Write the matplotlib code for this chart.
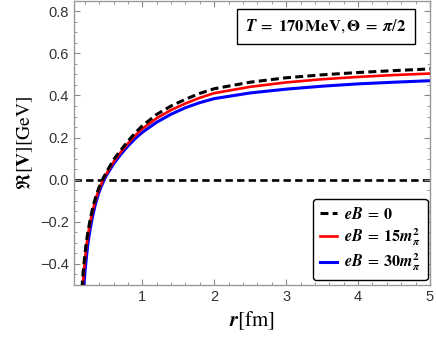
import matplotlib
matplotlib.use("Agg")
import matplotlib.pyplot as plt
from matplotlib.ticker import MultipleLocator

# ---- data ----
r_b0 = [0.15, 0.16, 0.17, 0.18, 0.20, 0.22, 0.25, 0.28, 0.32, 0.36, 0.40, 0.45,
        0.50, 0.60, 0.70, 0.80, 0.90, 1.00, 1.20, 1.40, 1.60, 1.80, 2.00,
        2.50, 3.00, 3.50, 4.00, 4.50, 5.00]
V_b0 = [-0.575, -0.52, -0.472, -0.43, -0.36, -0.30, -0.235, -0.18, -0.12, -0.072, -0.035, 0.003,
        0.035, 0.095, 0.140, 0.183, 0.222, 0.256, 0.31, 0.35, 0.382, 0.41, 0.432,
        0.463, 0.484, 0.498, 0.509, 0.518, 0.526]

r_b15 = [0.158, 0.168, 0.178, 0.188, 0.208, 0.228, 0.258, 0.288, 0.33, 0.37, 0.41, 0.46,
         0.50, 0.60, 0.70, 0.80, 0.90, 1.00, 1.20, 1.40, 1.60, 1.80, 2.00,
         2.50, 3.00, 3.50, 4.00, 4.50, 5.00]
V_b15 = [-0.575, -0.52, -0.472, -0.43, -0.36, -0.30, -0.235, -0.18, -0.12, -0.072, -0.035, 0.003,
         0.028, 0.085, 0.131, 0.172, 0.21, 0.242, 0.292, 0.331, 0.362, 0.389, 0.411,
         0.441, 0.462, 0.477, 0.488, 0.497, 0.504]

r_b30 = [0.175, 0.185, 0.195, 0.205, 0.225, 0.245, 0.275, 0.305, 0.345, 0.385, 0.425, 0.475,
         0.50, 0.60, 0.70, 0.80, 0.90, 1.00, 1.20, 1.40, 1.60, 1.80, 2.00,
         2.50, 3.00, 3.50, 4.00, 4.50, 5.00]
V_b30 = [-0.575, -0.52, -0.472, -0.43, -0.36, -0.30, -0.235, -0.18, -0.12, -0.072, -0.035, 0.003,
         0.02, 0.075, 0.12, 0.16, 0.195, 0.225, 0.273, 0.311, 0.342, 0.366, 0.385,
         0.412, 0.43, 0.444, 0.455, 0.463, 0.47]

labels = [r'$\mathbfit{eB}\;=\;\mathbf{0}$',
          r'$\mathbfit{eB}\;=\;\mathbf{15}\mathbfit{m}_{\mathbfit{\pi}}^{\mathbf{2}}$',
          r'$\mathbfit{eB}\;=\;\mathbf{30}\mathbfit{m}_{\mathbfit{\pi}}^{\mathbf{2}}$']
xticks = [1, 2, 3, 4, 5]
yticks = [-0.4, -0.2, 0.0, 0.2, 0.4, 0.6, 0.8]
yticklabels = ['\u22120.4', '\u22120.2', '0.0', '0.2', '0.4', '0.6', '0.8']

plt.rcParams['mathtext.fontset'] = 'stix'

fig = plt.figure(figsize=(4.36, 3.46), dpi=100)
ax = fig.add_axes([74/436, 1-285/346, (430-74)/436, 285/346 - 0.002])

ax.axhline(0.0, color='black', lw=1.9, ls=(0, (2.8, 1.6)), zorder=1)
ax.plot(r_b30, V_b30, color='#0000ff', lw=2.2, zorder=2, label=labels[2])
ax.plot(r_b15, V_b15, color='#ff0000', lw=1.9, zorder=3, label=labels[1])
ax.plot(r_b0, V_b0, color='black', lw=2.2, ls=(0, (2.6, 1.4)), zorder=4, label=labels[0])

ax.set_xlim(0.05, 5.0)
ax.set_ylim(-0.5, 0.85)
ax.set_xticks(xticks)
ax.set_yticks(yticks)
ax.set_yticklabels(yticklabels)
ax.xaxis.set_minor_locator(MultipleLocator(0.2))
ax.yaxis.set_minor_locator(MultipleLocator(0.05))
ax.tick_params(which='both', direction='in', top=True, right=True, color='#888888',
               labelsize=10.5, labelcolor='#333333')
ax.tick_params(which='major', length=4, width=0.8)
ax.tick_params(which='minor', length=2, width=0.6)
for lab in ax.get_xticklabels() + ax.get_yticklabels():
    lab.set_family('Liberation Sans')
for sp in ax.spines.values():
    sp.set_color('#999999')
    sp.set_linewidth(1.0)

ax.set_xlabel(r'$\mathbfit{r}[\mathrm{fm}]$', fontsize=15, labelpad=4)
ax.set_ylabel(r'$\Re[\mathbf{V}][\mathrm{GeV}]$', fontsize=14, labelpad=4)

ax.text(0.708, 0.91,
        r'$\mathbfit{T}\;=\;\mathbf{170}\,\mathbf{MeV},\mathbf{\Theta}\;=\;\mathbfit{\pi}/\mathbf{2}$',
        transform=ax.transAxes, ha='center', va='center', fontsize=12,
        bbox=dict(boxstyle='square,pad=0.5', fc='white', ec='black', lw=1.0))

h, l = ax.get_legend_handles_labels()
leg = ax.legend(h[::-1], l[::-1], loc='lower right', fontsize=11.5, handlelength=1.1,
                handletextpad=0.45, borderpad=0.4, labelspacing=0.28, borderaxespad=0.0,
                fancybox=True, framealpha=1, edgecolor='black', bbox_to_anchor=(0.993, 0.018))
leg.get_frame().set_linewidth(1.0)

fig.savefig('out.png', dpi=100)
